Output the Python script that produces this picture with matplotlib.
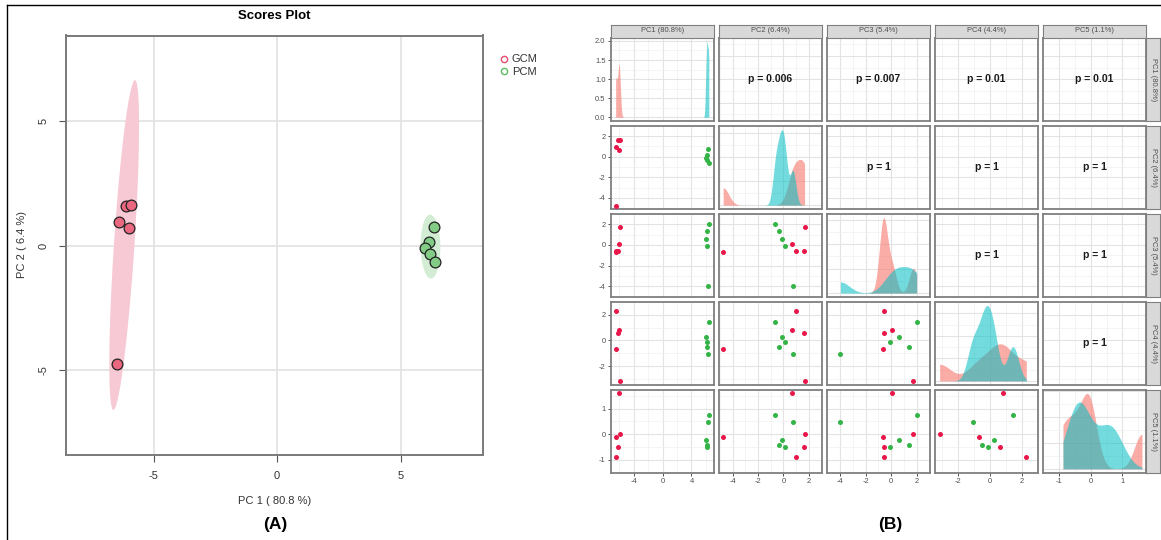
import numpy as np
import matplotlib
matplotlib.use('Agg')
import matplotlib.pyplot as plt
from matplotlib.lines import Line2D
from matplotlib.ticker import AutoMinorLocator, MaxNLocator

plt.rcParams['font.family'] = ['Liberation Sans', 'DejaVu Sans']
plt.rcParams['axes.unicode_minus'] = False

W, H = 1161, 540

groups = ['GCM', 'PCM']
pc_labels = ['PC1 (80.8%)', 'PC2 (6.4%)', 'PC3 (5.4%)', 'PC4 (4.4%)', 'PC5 (1.1%)']

# PCA scores, five samples per group
gcm_pc1 = [-6.10, -5.93, -6.40, -6.01, -6.49]
gcm_pc2 = [1.61, 1.66, 0.95, 0.70, -4.75]
gcm_pc3 = [-0.57, 1.72, -0.57, 0.08, -0.68]
gcm_pc4 = [0.60, -3.16, 2.28, 0.81, -0.67]
gcm_pc5 = [-0.49, 0.00, -0.88, 1.62, -0.11]

pcm_pc1 = [6.33, 6.13, 5.99, 6.18, 6.40]
pcm_pc2 = [0.75, 0.15, -0.08, -0.32, -0.64]
pcm_pc3 = [-3.97, -0.08, 0.57, 1.36, 1.98]
pcm_pc4 = [-1.08, -0.14, 0.24, -0.48, 1.44]
pcm_pc5 = [0.46, -0.49, -0.24, -0.41, 0.76]

# major breaks per component
pc_breaks = [[-4, 0, 4], [-4, -2, 0, 2], [-4, -2, 0, 2], [-2, 0, 2], [-1, 0, 1]]
dens_breaks = [0.0, 0.5, 1.0, 1.5, 2.0]

# p-values shown in the upper triangle
upper_text = [
    [None, 'p = 0.006', 'p = 0.007', 'p = 0.01', 'p = 0.01'],
    [None, None, 'p = 1', 'p = 1', 'p = 1'],
    [None, None, None, 'p = 1', 'p = 1'],
    [None, None, None, None, 'p = 1'],
]

gcm = np.array([gcm_pc1, gcm_pc2, gcm_pc3, gcm_pc4, gcm_pc5])
pcm = np.array([pcm_pc1, pcm_pc2, pcm_pc3, pcm_pc4, pcm_pc5])


def px_rect(x0, y0, x1, y1):
    return [x0 / W, 1 - y1 / H, (x1 - x0) / W, (y1 - y0) / H]


def conf_ellipse(x, y, level_chi2=5.991, n=200):
    x, y = np.asarray(x), np.asarray(y)
    cov = np.cov(x, y)
    vals, vecs = np.linalg.eigh(cov)
    t = np.linspace(0, 2 * np.pi, n)
    circ = np.vstack([np.cos(t), np.sin(t)]) * np.sqrt(vals[:, None] * level_chi2)
    pts = vecs @ circ
    return pts[0] + x.mean(), pts[1] + y.mean()


def kde(vals, grid):
    v = np.asarray(vals)
    q1, q3 = np.percentile(v, [25, 75])
    bw = 0.9 * min(v.std(ddof=1), (q3 - q1) / 1.34) * len(v) ** -0.2
    z = (grid[:, None] - v[None, :]) / bw
    return np.exp(-0.5 * z ** 2).sum(axis=1) / (len(v) * bw * np.sqrt(2 * np.pi))


fig = plt.figure(figsize=(W / 100, H / 100), dpi=100)

# frame lines along the left and top edges
fig.add_artist(Line2D([7 / W, 7 / W], [0, 1 - 5 / H], color='black', lw=1))
fig.add_artist(Line2D([7 / W, 1], [1 - 5 / H, 1 - 5 / H], color='black', lw=1))

# ---------------- (A) scores plot ----------------
ax = fig.add_axes(px_rect(65.5, 35.5, 483.5, 454.5))
ax.set_xlim(-8.56, 8.35)
ax.set_ylim(-8.38, 8.45)
for v in [-5, 0, 5]:
    ax.axvline(v, color='#E2E2E2', lw=1.2, zorder=0)
    ax.axhline(v, color='#E2E2E2', lw=1.2, zorder=0)

ex, ey = conf_ellipse(gcm_pc1, gcm_pc2)
ax.fill(ex, ey, color='#F7C9D5', lw=0, zorder=1)
ex, ey = conf_ellipse(pcm_pc1, pcm_pc2)
ax.fill(ex, ey, color='#D3EDD4', lw=0, zorder=1)

ax.scatter(gcm_pc1, gcm_pc2, s=60, c='#E9677F', edgecolors='#222222', linewidths=0.9, zorder=3)
ax.scatter(pcm_pc1, pcm_pc2, s=60, c='#82CC86', edgecolors='#222222', linewidths=0.9, zorder=3)

ax.set_xticks([-5, 0, 5])
ax.set_yticks([-5, 0, 5])
ax.tick_params(length=5, width=0.8, color='#555555', labelsize=8, labelcolor='#333333', pad=7)
for lab in ax.get_yticklabels():
    lab.set_rotation(90)
    lab.set_va('center')
for s in ax.spines.values():
    s.set_color('#7A7A7A')
    s.set_linewidth(1.4)

fig.text(274.5 / W, 1 - 16 / H, 'Scores Plot', ha='center', va='center',
         fontsize=9.5, fontweight='bold')
fig.text(274.5 / W, 1 - 501.5 / H, 'PC 1 ( 80.8 %)', ha='center', va='center',
         fontsize=8, color='#333333')
fig.text(22 / W, 1 - 245 / H, 'PC 2 ( 6.4 %)', ha='center', va='center',
         fontsize=8, color='#333333', rotation=90)

handles = [Line2D([], [], ls='none', marker='o', mfc='none', mec='#E64B6B', ms=4.5, mew=1),
           Line2D([], [], ls='none', marker='o', mfc='none', mec='#5DBB63', ms=4.5, mew=1)]
fig.legend(handles, groups, loc='upper left', bbox_to_anchor=(494 / W, 1 - 50 / H),
           frameon=False, fontsize=8, handletextpad=0.2, labelspacing=0.25,
           handlelength=1.0, borderaxespad=0, labelcolor='#333333')

fig.text(275 / W, 1 - 525 / H, '(A)', ha='center', va='center', fontsize=12.5, fontweight='bold')

# ---------------- (B) pairs plot ----------------
col_x0 = [611 + i * 108.1 for i in range(5)]
col_w = 102.5
row_y0 = [38.0 + i * 87.9 for i in range(5)]
row_h = 83.0

pink, cyan = '#F8766D', '#00BFC4'
red_pt, green_pt = '#E8174A', '#34B347'
tick_col = '#4D4D4D'
border_col = '#7F7F7F'


def limits(i):
    lo = min(gcm[i].min(), pcm[i].min())
    hi = max(gcm[i].max(), pcm[i].max())
    pad = (hi - lo) * 0.05
    return lo, hi, lo - pad, hi + pad


def minor_from(breaks):
    step = breaks[1] - breaks[0]
    return [b + step / 2 for b in [breaks[0] - step] + list(breaks)]


for r in range(5):
    for c in range(5):
        a = fig.add_axes(px_rect(col_x0[c], row_y0[r], col_x0[c] + col_w, row_y0[r] + row_h))
        xlo, xhi, xa, xb = limits(c)
        a.set_xlim(xa, xb)
        a.set_xticks(pc_breaks[c])
        a.set_xticks(minor_from(pc_breaks[c]), minor=True)

        if r == c:
            grid = np.linspace(xlo, xhi, 512)
            dg = kde(gcm[c], grid)
            dp = kde(pcm[c], grid)
            top = max(dg.max(), dp.max())
            a.fill_between(grid, 0, dg, color=pink, alpha=0.6, lw=0, zorder=2)
            a.fill_between(grid, 0, dp, color=cyan, alpha=0.55, lw=0, zorder=3)
            a.set_ylim(-0.05 * top, 1.05 * top)
            if r == 0:
                a.set_yticks(dens_breaks)
            else:
                a.yaxis.set_major_locator(MaxNLocator(4))
            a.yaxis.set_minor_locator(AutoMinorLocator(2))
        else:
            ylo, yhi, ya, yb = limits(r)
            a.set_ylim(ya, yb)
            a.set_yticks(pc_breaks[r])
            a.set_yticks(minor_from(pc_breaks[r]), minor=True)
            if r > c:
                a.scatter(gcm[c], gcm[r], s=13, c=red_pt, lw=0, zorder=3)
                a.scatter(pcm[c], pcm[r], s=13, c=green_pt, lw=0, zorder=3)
            else:
                a.text(0.5, 0.5, upper_text[r][c], transform=a.transAxes, ha='center',
                       va='center', fontsize=7.5, fontweight='bold', color='#1A1A1A')

        a.grid(True, which='major', color='#E3E3E3', lw=0.8, zorder=0)
        a.grid(True, which='minor', color='#F0F0F0', lw=0.5, zorder=0)
        a.set_axisbelow(True)
        for s in a.spines.values():
            s.set_color(border_col)
            s.set_linewidth(1.3)
        a.tick_params(which='minor', length=0)
        a.tick_params(which='major', length=2.5, width=0.6, color='#333333',
                      labelsize=5.4, labelcolor=tick_col, pad=1.5)
        if c == 0:
            if r == 0:
                a.set_yticklabels(['0.0', '0.5', '1.0', '1.5', '2.0'])
        else:
            a.tick_params(axis='y', which='major', length=0, labelleft=False)
        if r != 4:
            a.tick_params(axis='x', which='major', length=0, labelbottom=False)

    # row strip on the right
    s_ax = fig.add_axes(px_rect(1146, row_y0[r], 1160, row_y0[r] + row_h))
    s_ax.set_facecolor('#D9D9D9')
    s_ax.set_xticks([])
    s_ax.set_yticks([])
    for s in s_ax.spines.values():
        s.set_color(border_col)
        s.set_linewidth(0.8)
    s_ax.text(0.5, 0.5, pc_labels[r], transform=s_ax.transAxes, rotation=-90,
              ha='center', va='center', fontsize=5.4, color=tick_col)

# column strips on top
for c in range(5):
    s_ax = fig.add_axes(px_rect(col_x0[c], 24.5, col_x0[c] + col_w, 37.5))
    s_ax.set_facecolor('#D9D9D9')
    s_ax.set_xticks([])
    s_ax.set_yticks([])
    for s in s_ax.spines.values():
        s.set_color(border_col)
        s.set_linewidth(0.8)
    s_ax.text(0.5, 0.5, pc_labels[c], transform=s_ax.transAxes, ha='center',
              va='center', fontsize=5.4, color=tick_col)

fig.text(890 / W, 1 - 525 / H, '(B)', ha='center', va='center', fontsize=12.5, fontweight='bold')

fig.savefig('out.png', dpi=100)
